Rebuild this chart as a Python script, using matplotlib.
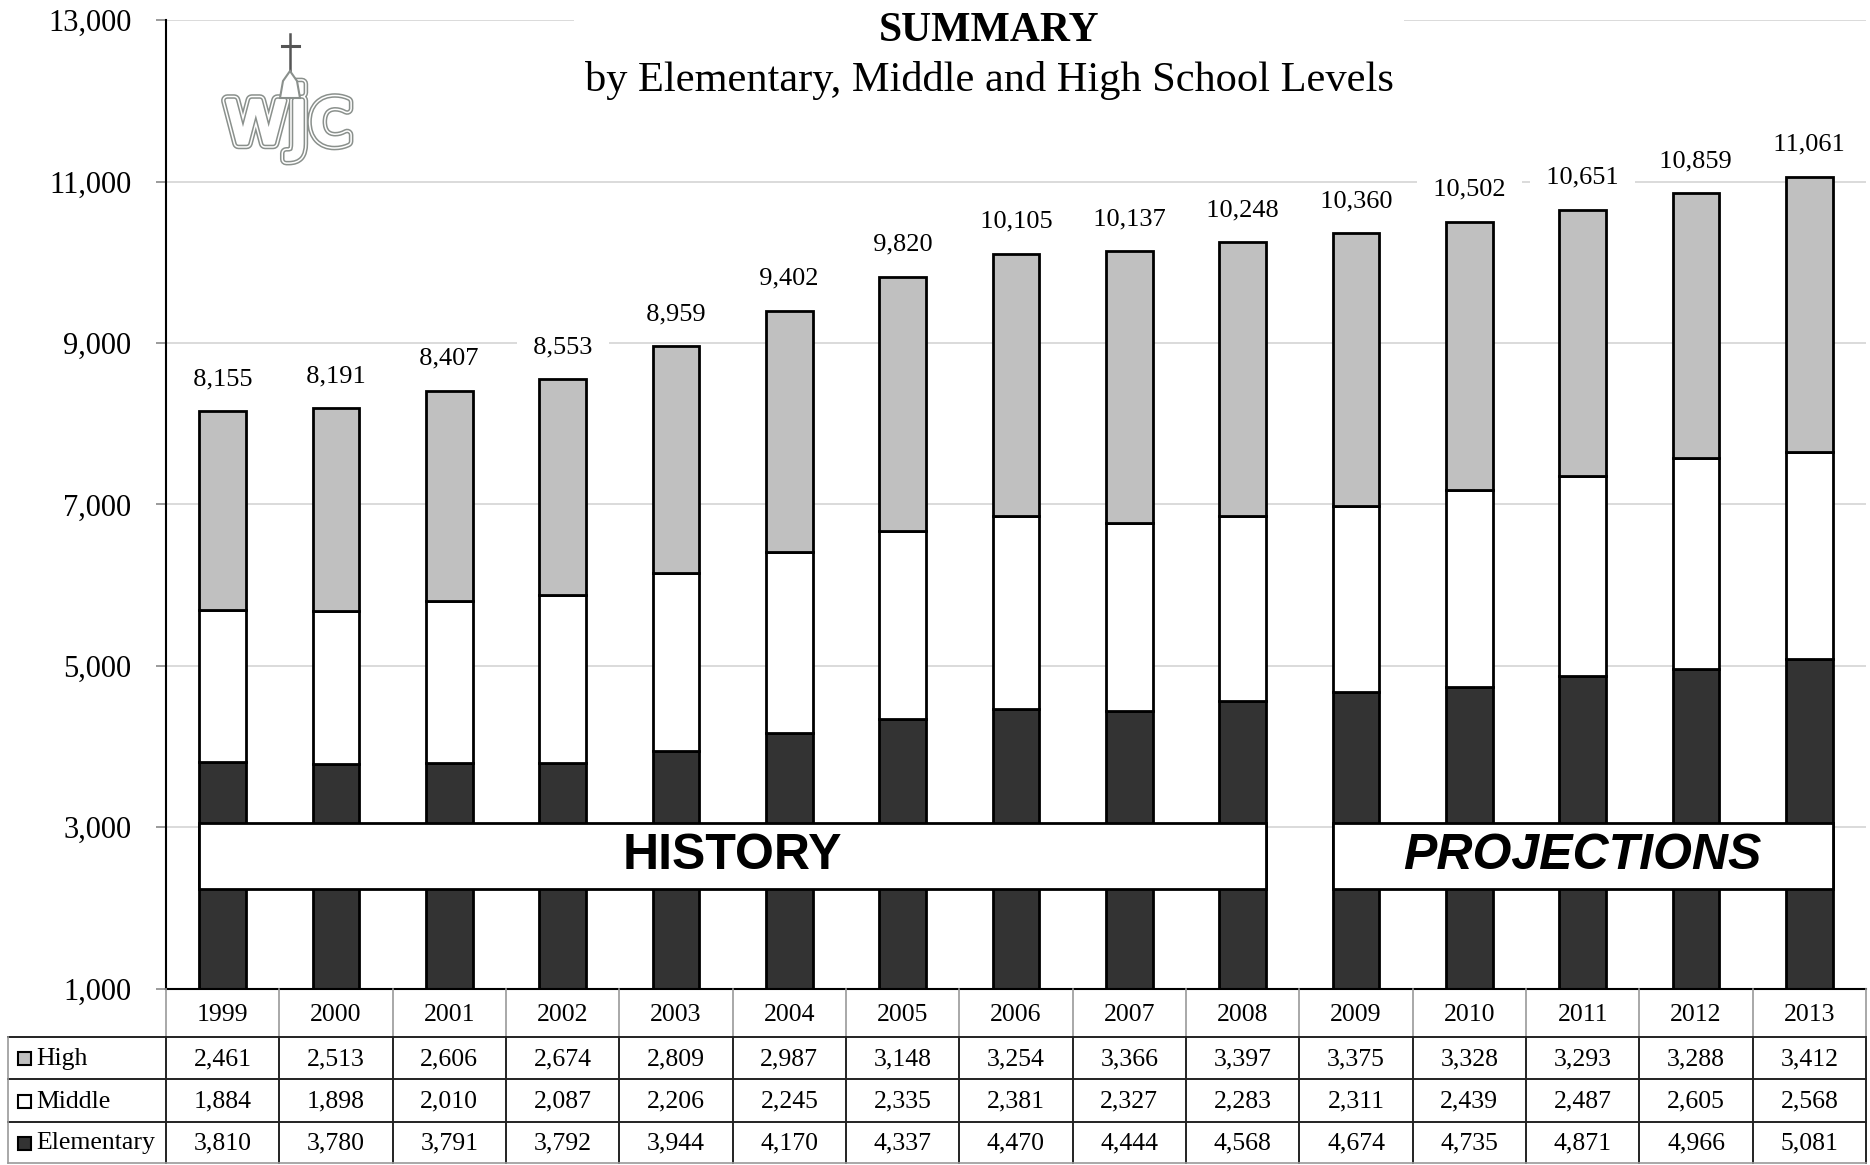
import numpy as np
import matplotlib
matplotlib.use('Agg')
import matplotlib.pyplot as plt
from matplotlib.patches import Rectangle, Polygon
from matplotlib.transforms import blended_transform_factory
import matplotlib.patheffects as pe

# ---------------- data ----------------
years = ['1999', '2000', '2001', '2002', '2003', '2004', '2005', '2006',
         '2007', '2008', '2009', '2010', '2011', '2012', '2013']
high = [2461, 2513, 2606, 2674, 2809, 2987, 3148, 3254, 3366, 3397,
        3375, 3328, 3293, 3288, 3412]
middle = [1884, 1898, 2010, 2087, 2206, 2245, 2335, 2381, 2327, 2283,
          2311, 2439, 2487, 2605, 2568]
elementary = [3810, 3780, 3791, 3792, 3944, 4170, 4337, 4470, 4444, 4568,
              4674, 4735, 4871, 4966, 5081]
series_names = ['High', 'Middle', 'Elementary']
period_names = ['HISTORY', 'PROJECTIONS']
period_first = ['1999', '2009']
period_last = ['2008', '2013']
yticks = [1000, 3000, 5000, 7000, 9000, 11000, 13000]
title = 'SUMMARY'
subtitle = 'by Elementary, Middle and High School Levels'

# ---------------- style ----------------
SERIF = 'Liberation Serif'
SANS = 'Liberation Sans'
colors = {'High': '#c0c0c0', 'Middle': '#ffffff', 'Elementary': '#333333'}

W, H = 1870, 1165
L, R, T, B = 166, 1866, 20.3, 988.5

fig = plt.figure(figsize=(W / 100, H / 100), dpi=100)
ax = fig.add_axes([L / W, 1 - B / H, (R - L) / W, (B - T) / H])

x = np.arange(len(years))
elem = np.array(elementary)
mid = np.array(middle)
hi = np.array(high)
totals = elem + mid + hi
bw = 0.41

ax.bar(x, elem, bw, color=colors['Elementary'], edgecolor='black', linewidth=2, zorder=2)
ax.bar(x, mid, bw, bottom=elem, color=colors['Middle'], edgecolor='black', linewidth=2, zorder=2)
ax.bar(x, hi, bw, bottom=elem + mid, color=colors['High'], edgecolor='black', linewidth=2, zorder=2)

ax.set_xlim(-0.5, len(years) - 0.5)
ax.set_ylim(yticks[0], yticks[-1])
ax.set_yticks(yticks)
ax.set_yticklabels([f'{v:,}' for v in yticks], fontsize=22, family=SERIF)
ax.set_xticks([])
ax.yaxis.grid(True, color='#d4d4d4', linewidth=1.2)
ax.set_axisbelow(True)
for s in ['top', 'right']:
    ax.spines[s].set_visible(False)
ax.spines['left'].set_linewidth(1.5)
ax.spines['bottom'].set_linewidth(1.5)
ax.tick_params(axis='y', length=7, width=1.2, color='#8a8a8a', pad=18)

# total labels
for i, t in enumerate(totals):
    ax.annotate(f'  {t:,}  ', (i, t), xytext=(0, 23), textcoords='offset points',
                ha='center', va='center', fontsize=19, family=SERIF,
                bbox=dict(boxstyle='square,pad=0.12', fc='white', ec='none'), zorder=3)

# period bands
for name, f, l in zip(period_names, period_first, period_last):
    i0, i1 = years.index(f), years.index(l)
    y0, y1 = 2235, 3055
    ax.add_patch(Rectangle((i0 - bw / 2, y0), (i1 - i0) + bw, y1 - y0,
                           facecolor='white', edgecolor='black', linewidth=2, zorder=4))
    ax.text((i0 + i1) / 2, (y0 + y1) / 2, name, ha='center', va='center',
            fontsize=36, fontweight='bold', family=SANS,
            fontstyle='italic' if name == 'PROJECTIONS' else 'normal', zorder=5)

# ---------------- overlay (pixel coordinates) ----------------
ov = fig.add_axes([0, 0, 1, 1])
ov.set_xlim(0, W)
ov.set_ylim(H, 0)
ov.axis('off')
ov.patch.set_visible(False)

# title block with white background hiding the top gridline
ov.add_patch(Rectangle((574, 0), 830, 100, facecolor='white', edgecolor='none', zorder=1))
ov.text(989, 31, title, ha='center', va='center', fontsize=30, fontweight='bold',
        family=SERIF, zorder=2)
ov.text(989, 81, subtitle, ha='center', va='center', fontsize=30.5, family=SERIF, zorder=2)

# logo (approximation)
logo_col = '#8a908c'
ov.text(288, 121, 'wjc', ha='center', va='center', fontsize=56, family='DejaVu Sans',
        color='white', zorder=2,
        path_effects=[pe.Stroke(linewidth=9, foreground=logo_col),
                      pe.Stroke(linewidth=6.8, foreground='white'),
                      pe.Stroke(linewidth=4.6, foreground=logo_col),
                      pe.Stroke(linewidth=2.4, foreground='white'),
                      pe.Normal()])
ov.plot([290, 290], [34, 92], color='#555555', lw=1.8, zorder=3)
ov.plot([282, 299], [46, 46], color='#555555', lw=2.2, zorder=3)
ov.add_patch(Polygon([[280, 98], [283, 81], [290, 71], [297, 81], [300, 98]],
                     closed=True, facecolor='white', edgecolor=logo_col, lw=1.5, zorder=3))

# ---------------- data table ----------------
trd = blended_transform_factory(ax.transData, ov.transData)
row_edges = [B, 1037, 1079, 1122, 1163]
leg_left = 8
grey = '#9a9a9a'

bounds = np.arange(len(years) + 1) - 0.5
for b in bounds:
    ov.plot([b, b], [row_edges[0], row_edges[1]], color=grey, lw=1.2, transform=trd,
            clip_on=False, zorder=2)
    ov.plot([b, b], [row_edges[1], row_edges[-1]], color='#222222', lw=1.4, transform=trd,
            clip_on=False, zorder=2)
# horizontal lines
right_px = R
for yy in row_edges[1:-1]:
    ov.plot([leg_left, right_px], [yy, yy], color='#222222', lw=1.4, zorder=2)
ov.plot([leg_left, right_px], [row_edges[-1], row_edges[-1]], color=grey, lw=1.2, zorder=2)
ov.plot([leg_left, leg_left], [row_edges[1], row_edges[-1]], color=grey, lw=1.2, zorder=2)

# year row
yc = (row_edges[0] + row_edges[1]) / 2 + 2
for i, yr in enumerate(years):
    ov.text(i, yc, yr, transform=trd, ha='center', va='center', fontsize=18.5, family=SERIF)

rows = {'High': hi, 'Middle': mid, 'Elementary': elem}
for r, name in enumerate(series_names):
    yc = (row_edges[r + 1] + row_edges[r + 2]) / 2 + 1
    ov.add_patch(Rectangle((18, yc - 7), 13, 13, facecolor=colors[name],
                           edgecolor='black', lw=1.5, zorder=3))
    ov.text(36, yc, name, ha='left', va='center', fontsize=18.5, family=SERIF)
    for i, v in enumerate(rows[name]):
        ov.text(i, yc, f'{v:,}', transform=trd, ha='center', va='center',
                fontsize=18.5, family=SERIF)

fig.savefig('out.png', dpi=100)
